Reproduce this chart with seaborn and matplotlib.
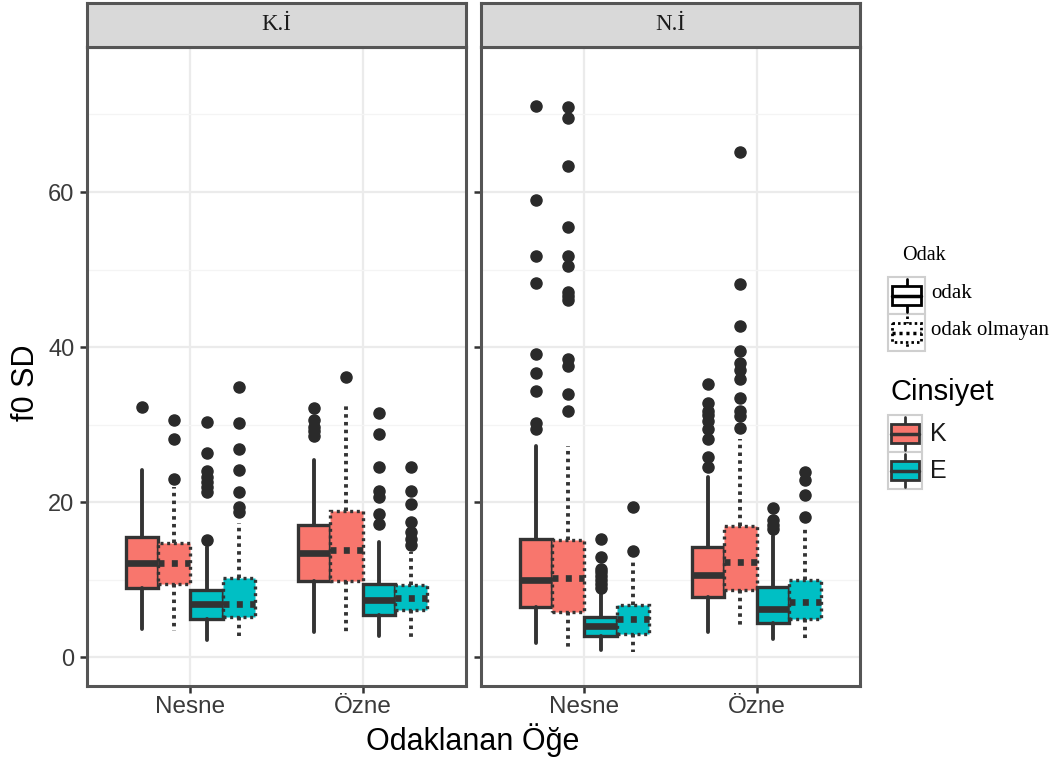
import numpy as np
import pandas as pd
import seaborn as sns
import matplotlib
matplotlib.use("Agg")
import matplotlib.pyplot as plt
from matplotlib.patches import Rectangle

# facets / categories / groups
panels = ["K.İ", "N.İ"]
categories = ["Nesne", "Özne"]
cinsiyet = ["K", "E"]
odak = ["odak", "odak olmayan"]

# box statistics, order: panel -> category -> (K odak, K olmayan, E odak, E olmayan)
whislo = [3.6, 3.4, 2.2, 2.7,   3.3, 3.3, 2.7, 2.3,   1.8, 1.3, 0.9, 0.7,   3.3, 3.9, 2.4, 2.2]
q1 = [8.9, 9.5, 5.0, 5.2,   9.8, 9.9, 5.4, 6.1,   6.5, 5.8, 2.7, 3.0,   7.8, 8.7, 4.4, 4.9]
med = [12.2, 12.1, 6.9, 6.9,   13.4, 13.8, 7.4, 7.7,   10.0, 10.2, 4.0, 5.0,   10.6, 12.3, 6.2, 7.1]
q3 = [15.5, 14.7, 8.7, 10.2,   17.0, 18.9, 9.5, 9.3,   15.3, 15.1, 5.2, 6.8,   14.2, 16.9, 9.1, 10.0]
whishi = [24.2, 22.0, 14.2, 17.3,   25.5, 32.5, 14.9, 13.6,   27.3, 27.3, 8.5, 12.4,   23.3, 28.2, 15.7, 16.8]
fliers = [
    [32.3],
    [23.0, 28.1, 30.6],
    [15.1, 21.3, 22.0, 22.6, 23.3, 24.0, 26.4, 30.4],
    [18.8, 19.4, 21.3, 24.2, 26.8, 30.2, 34.9],
    [28.6, 29.2, 29.7, 30.6, 32.2],
    [36.2],
    [17.2, 18.5, 20.7, 21.5, 24.6, 28.8, 31.5],
    [14.5, 15.3, 16.2, 17.5, 19.8, 21.5, 24.6],
    [29.4, 30.2, 34.4, 36.7, 39.1, 48.3, 51.8, 59.0, 71.1],
    [31.8, 33.9, 37.5, 38.5, 46.1, 46.6, 47.1, 50.5, 51.8, 55.5, 63.4, 69.5, 70.9],
    [9.0, 9.5, 10.0, 10.5, 11.0, 11.4, 12.9, 15.2],
    [13.7, 19.4],
    [24.5, 25.8, 28.1, 29.4, 30.5, 31.3, 31.8, 32.8, 35.2],
    [29.6, 31.1, 31.8, 33.4, 35.9, 37.0, 38.0, 39.5, 42.7, 48.2, 65.2],
    [16.6, 17.1, 17.7, 19.2],
    [18.1, 20.9, 22.8, 23.9],
]

rows = []
i = 0
for p in panels:
    for c in categories:
        for g in cinsiyet:
            for o in odak:
                rows.append(dict(panel=p, category=c, cinsiyet=g, odak=o,
                                 whislo=whislo[i], q1=q1[i], med=med[i], q3=q3[i],
                                 whishi=whishi[i], fliers=fliers[i]))
                i += 1
df = pd.DataFrame(rows)

sns.set_theme(style="whitegrid")
plt.rcParams['font.family'] = ['Liberation Sans', 'DejaVu Sans']

colors = {"K": "#F8766D", "E": "#00BFC4"}
edge = "#333333"
dots = (0, (0.9, 1.1))
W = 1058
H = 760

fig = plt.figure(figsize=(10.58, 7.6), dpi=100)

box_w = 0.1875
offsets = [-1.5 * box_w, -0.5 * box_w, 0.5 * box_w, 1.5 * box_w]

for k, p in enumerate(panels):
    left = 87 if k == 0 else 481
    ax = fig.add_axes([left / W, 74 / H, 379 / W, 639 / H])
    sub = df[df.panel == p]
    for ci, c in enumerate(categories):
        grp = sub[sub.category == c].reset_index(drop=True)
        for j, r in grp.iterrows():
            ls = "-" if r.odak == "odak" else dots
            st = [dict(med=r.med, q1=r.q1, q3=r.q3, whislo=r.whislo,
                       whishi=r.whishi, fliers=r.fliers)]
            ax.bxp(st, positions=[ci + offsets[j]], widths=box_w,
                   patch_artist=True, showcaps=False, manage_ticks=False,
                   boxprops=dict(facecolor=colors[r.cinsiyet], edgecolor=edge,
                                 linewidth=2.4, linestyle=ls),
                   whiskerprops=dict(color=edge, linewidth=2.8, linestyle=ls),
                   medianprops=dict(color=edge, linewidth=4.8, linestyle=ls,
                                    solid_capstyle="butt"),
                   flierprops=dict(marker="o", markersize=8,
                                   markerfacecolor="#2a2a2a",
                                   markeredgecolor="#2a2a2a"))
    ax.set_xlim(-0.6, 1.6)
    ax.set_ylim(-3.7, 78.7)
    ax.set_xticks([0, 1])
    ax.set_xticklabels(categories)
    ax.set_yticks([0, 20, 40, 60])
    ax.set_yticks([10, 30, 50, 70], minor=True)
    ax.grid(which="major", color="#EBEBEB", linewidth=1.6)
    ax.grid(which="minor", axis="y", color="#F4F4F4", linewidth=0.9)
    ax.set_axisbelow(True)
    ax.set_facecolor("white")
    for s in ax.spines.values():
        s.set_color("#555555")
        s.set_linewidth(2.2)
    ax.tick_params(axis="both", which="major", length=5, width=1.8,
                   color="#333333", left=True, bottom=True)
    ax.tick_params(axis="x", labelsize=17.5, labelcolor="#3A3A3A", pad=2)
    ax.tick_params(axis="y", labelsize=17, labelcolor="#3A3A3A", pad=4)
    ax.tick_params(which="minor", left=False, bottom=False)
    if k == 1:
        ax.tick_params(axis="y", labelleft=False)
    ax.set_xlabel("")
    ax.set_ylabel("")

    # facet strip
    sax = fig.add_axes([left / W, (H - 47) / H, 379 / W, 44 / H])
    sax.set_facecolor("#D9D9D9")
    sax.set_xticks([])
    sax.set_yticks([])
    sax.grid(False)
    for s in sax.spines.values():
        s.set_color("#555555")
        s.set_linewidth(2.2)
    sax.text(0.5, 0.5, p, ha="center", va="center", fontsize=16.5,
             family="Liberation Serif", color="#1A1A1A")

fig.text(26 / W, 1 - 383 / H, "f0 SD", rotation=90, ha="center", va="center",
         fontsize=22, color="black")
fig.text(473 / W, 1 - 723 / H, "Odaklanan Öğe", ha="center", va="top",
         fontsize=22, color="black")

# legend drawn in pixel space
lax = fig.add_axes([860 / W, 0, (W - 860) / W, 1])
lax.set_xlim(860, W)
lax.set_ylim(H, 0)
lax.axis("off")

lax.text(902, 256, "Odak", fontsize=14.5, family="Liberation Serif",
         ha="left", va="center", color="black")
for n, o in enumerate(odak):
    y0 = 277 + n * 37
    ls = "-" if o == "odak" else dots
    lax.add_patch(Rectangle((888, y0), 37, 37, facecolor="white",
                            edgecolor="#CFCFCF", linewidth=1.5, zorder=1))
    lax.plot([906.5, 906.5], [y0 + 2, y0 + 35], color="black", lw=2,
             linestyle=ls, zorder=2)
    lax.add_patch(Rectangle((892, y0 + 9), 29, 19, facecolor="white",
                            edgecolor="black", linewidth=2, linestyle=ls, zorder=3))
    lax.plot([892, 921], [y0 + 18.5, y0 + 18.5], color="black", lw=2.5,
             linestyle=ls, zorder=4)
    lax.text(931, y0 + 17, o, fontsize=15, family="Liberation Serif",
             ha="left", va="center", color="black")

lax.text(890, 392, "Cinsiyet", fontsize=21, ha="left", va="center", color="black")
for n, g in enumerate(cinsiyet):
    y0 = 415 + n * 37
    lax.add_patch(Rectangle((888, y0), 34, 37, facecolor="white",
                            edgecolor="#CFCFCF", linewidth=1.5, zorder=1))
    lax.plot([905, 905], [y0 + 2, y0 + 35], color=edge, lw=2, zorder=2)
    lax.add_patch(Rectangle((891, y0 + 9), 28, 19, facecolor=colors[g],
                            edgecolor=edge, linewidth=2, zorder=3))
    lax.plot([891, 919], [y0 + 18.5, y0 + 18.5], color=edge, lw=2.5, zorder=4)
    lax.text(930, y0 + 19, g, fontsize=18, ha="left", va="center", color="#1A1A1A")

fig.savefig("out.png", dpi=100)
